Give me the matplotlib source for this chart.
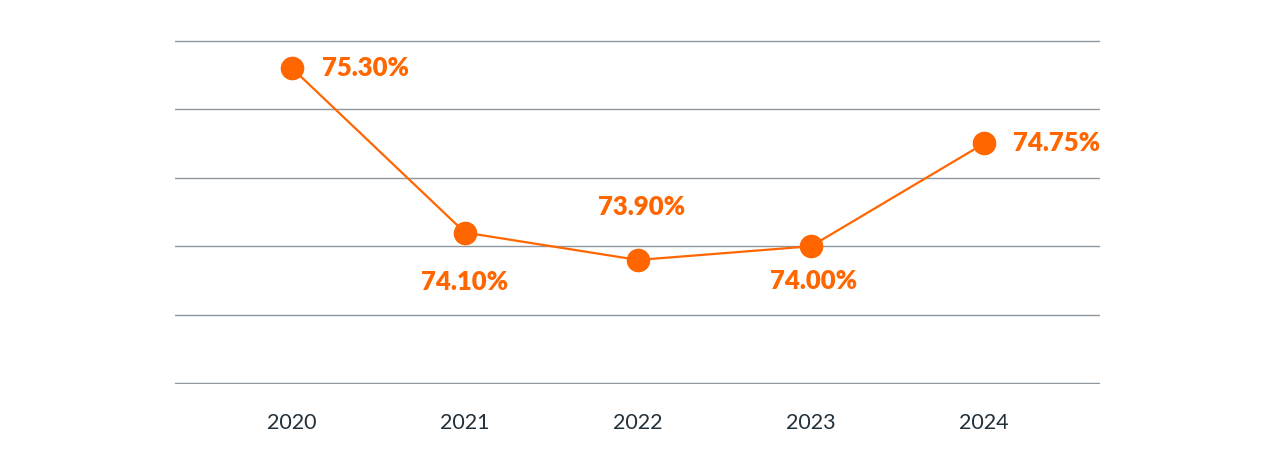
import matplotlib
matplotlib.use('Agg')
import matplotlib.pyplot as plt

# Данные
years = ['2020', '2021', '2022', '2023', '2024']
values = [75.30, 74.10, 73.90, 74.00, 74.75]
labels = ['75.30%', '74.10%', '73.90%', '74.00%', '74.75%']

orange = '#ff6600'
grid_color = '#8d979d'

# Смещения подписей (в пикселях), выравнивание
offsets = [(30, 0, 'left'), (0, -49, 'center'), (4, 53, 'center'),
           (3, -35, 'center'), (29, 0, 'left')]

fig = plt.figure(figsize=(12.8, 4.71), dpi=100)
ax = fig.add_axes([175 / 1280, 1 - 384 / 471, 925 / 1280, 344 / 471])

x = list(range(len(years)))
ax.plot(x, values, color=orange, lw=1.6, zorder=3)
ax.plot(x, values, 'o', color=orange, markersize=16, zorder=4)

for xi, v, lab, (dx, dy, ha) in zip(x, values, labels, offsets):
    ax.annotate(lab, (xi, v), xytext=(dx * 0.72, dy * 0.72), textcoords='offset points',
                ha=ha, va='center', color=orange, fontsize=18.5,
                fontweight='heavy', family=['Lato', 'DejaVu Sans'])

ax.set_xlim(-0.676, 4.67)
ax.set_ylim(72.995, 75.505)
ax.set_yticks([73.0, 73.5, 74.0, 74.5, 75.0, 75.5])
ax.yaxis.grid(True, color=grid_color, lw=1)
ax.set_axisbelow(True)
ax.tick_params(axis='y', left=False, labelleft=False)
ax.set_xticks(x)
ax.set_xticklabels(years, family=['Lato', 'DejaVu Sans'], fontsize=15.5, color='#22303a')
ax.tick_params(axis='x', bottom=False, pad=17.5)
for s in ax.spines.values():
    s.set_visible(False)

plt.savefig('out.png', dpi=100)
